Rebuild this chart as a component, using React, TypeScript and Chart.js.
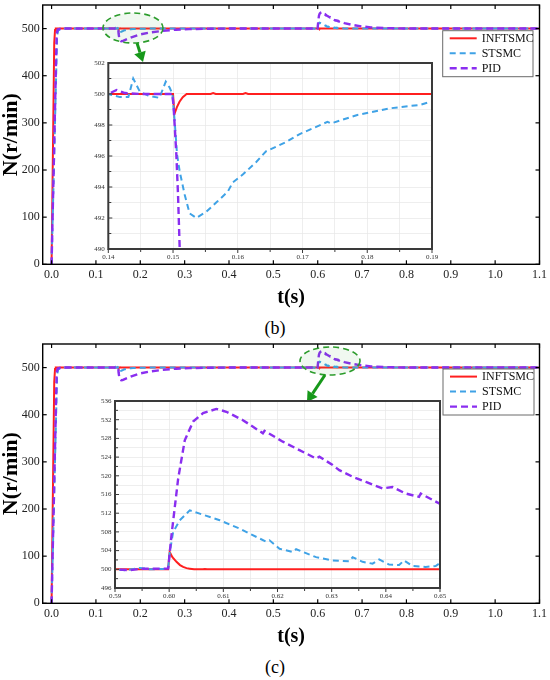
import React, { useEffect, useRef } from 'react'
import { Chart, registerables } from 'chart.js'

Chart.register(...registerables)

const SERIF = "'Times New Roman', 'Liberation Serif', serif"

// speed N (r/min) against time t (s)
const infTime = [0, 0.006, 0.0078, 0.0095, 0.15, 0.1502, 0.1506, 0.151, 0.1515, 0.1521, 0.1558, 0.1562, 0.1566, 0.1608, 0.1612, 0.1616, 0.5998, 0.6001, 0.6006, 0.60135, 0.602, 0.60258, 0.6032, 0.6038, 0.6046, 0.6062, 0.6066, 0.607, 1.1]
const infSpeed = [0, 470, 497, 500, 500, 498.7, 499.15, 499.5, 499.8, 500, 500, 500.06, 500, 500, 500.06, 500, 500, 503.7, 502.6, 501.6, 500.9, 500.5, 500.25, 500.14, 500, 500, 500.05, 500, 500]

const stTime = [0, 0.0125, 0.015, 0.02, 0.03, 0.14, 0.1409, 0.1418, 0.1431, 0.14385, 0.14487, 0.14615, 0.1479, 0.14887, 0.14949, 0.1499, 0.15026, 0.15062, 0.15103, 0.1518, 0.15256, 0.15359, 0.15513, 0.15667, 0.15846, 0.15923, 0.16077, 0.16282, 0.16436, 0.1659, 0.16744, 0.16949, 0.17385, 0.1744, 0.17846, 0.18359, 0.1882, 0.18974, 0.195, 0.21, 0.24, 0.59, 0.5921, 0.5946, 0.5964, 0.5998, 0.60012, 0.60074, 0.60196, 0.6038, 0.60564, 0.60933, 0.613, 0.61791, 0.61853, 0.62037, 0.62282, 0.62344, 0.62712, 0.63018, 0.63325, 0.63387, 0.6357, 0.63755, 0.63877, 0.64061, 0.64245, 0.64337, 0.6449, 0.64736, 0.6492, 0.64982, 0.652, 0.66, 0.68, 0.72, 1.1]
const stSpeed = [0, 485, 496, 498.5, 500, 500, 499.9, 499.8, 499.8, 501, 500.15, 499.9, 499.75, 500.8, 500.4, 500, 498.2, 496.1, 495, 493.5, 492.3, 492, 492.4, 493, 493.7, 494.3, 494.8, 495.6, 496.3, 496.6, 496.9, 497.4, 498.2, 498.1, 498.65, 499.08, 499.3, 499.5, 499.6, 499.85, 500, 500, 499.8, 500.3, 500, 500.1, 503.7, 508, 510.5, 512.6, 511.9, 510.5, 508.7, 505.9, 506.2, 504.4, 503.7, 504.3, 502.6, 501.9, 501.7, 502.6, 501.6, 501.2, 502.1, 501, 500.9, 501.9, 500.7, 500.5, 500.7, 501.2, 500.6, 500.4, 500.15, 500, 500]

const pidTime = [0, 0.0115, 0.014, 0.02, 0.03, 0.14, 0.14128, 0.14256, 0.145, 0.1499, 0.1501, 0.15051, 0.15077, 0.15103, 0.1515, 0.152, 0.153, 0.155, 0.157, 0.16, 0.17, 0.18, 0.2, 0.22, 0.25, 0.28, 0.31, 0.35, 0.4, 0.59, 0.5928, 0.5946, 0.5995, 0.59982, 0.60043, 0.60166, 0.60288, 0.60442, 0.60626, 0.60871, 0.61055, 0.61362, 0.6173, 0.61761, 0.62098, 0.62405, 0.62712, 0.62773, 0.63018, 0.63141, 0.63387, 0.63632, 0.63939, 0.64123, 0.64368, 0.64613, 0.64644, 0.64982, 0.655, 0.66, 0.68, 0.7, 0.72, 0.75, 0.8, 0.9, 1.1]
const pidSpeed = [0, 490, 498, 499.5, 500, 500, 500.26, 500.06, 500, 500, 499.1, 496.1, 493.5, 490, 487, 483.5, 478.5, 474.5, 473, 473.5, 477.5, 481.5, 487.5, 491.5, 495, 497.5, 498.8, 499.6, 500, 500, 499.8, 500.1, 500.15, 500.2, 507.3, 519.4, 527.6, 531.6, 533.4, 534.3, 533.7, 531.9, 529.1, 529.6, 527.3, 525.5, 523.7, 524.1, 522.3, 521.2, 519.8, 518.7, 517.3, 517.6, 516.2, 515.5, 516.2, 514.1, 513, 511.5, 507.5, 504.5, 502.5, 501, 500.2, 500, 500]

const seriesLabels = ['INFTSMC', 'STSMC', 'PID']
const seriesData = [[infTime, infSpeed], [stTime, stSpeed], [pidTime, pidSpeed]]
const seriesColors = ['#ff1f1f', '#3fa2e6', '#8a2ef0']
const seriesDashes = [[], [6, 4], [7, 4]]

const mainTimeTicks = [0, 0.1, 0.2, 0.3, 0.4, 0.5, 0.6, 0.7, 0.8, 0.9, 1.0, 1.1]
const mainSpeedTicks = [0, 100, 200, 300, 400, 500]
const zoomBTimeTicks = [0.14, 0.15, 0.16, 0.17, 0.18, 0.19]
const zoomBSpeedTicks = [490, 492, 494, 496, 498, 500, 502]
const zoomCTimeTicks = [0.59, 0.6, 0.61, 0.62, 0.63, 0.64, 0.65]
const zoomCSpeedTicks = [496, 500, 504, 508, 512, 516, 520, 524, 528, 532, 536]

const buildDatasets = (width: number) =>
  seriesLabels.map((label, i) => ({
    label,
    data: seriesData[i][0].map((x, j) => ({ x, y: seriesData[i][1][j] })),
    borderColor: seriesColors[i],
    borderWidth: i === 2 ? width + 0.4 : width,
    borderDash: seriesDashes[i],
    pointRadius: 0,
    tension: 0,
    fill: false,
    order: 3 - i,
  }))

// every minor step between the first and last major tick
const fillTicks = (major: number[], step: number) => {
  const n = Math.round((major[major.length - 1] - major[0]) / step)
  return Array.from({ length: n + 1 }, (_, i) => +(major[0] + i * step).toFixed(6))
}
const isMajor = (v: number, major: number[]) => major.some((m) => Math.abs(m - v) < 1e-7)

const axis = (o: any) => ({
  type: 'linear',
  min: o.min,
  max: o.max,
  grid: o.grid
    ? { display: true, color: o.grid, lineWidth: 0.7, drawTicks: false }
    : { display: false, drawTicks: false },
  border: { display: false },
  afterBuildTicks: (s: any) => {
    s.ticks = o.values.map((value: number) => ({ value }))
  },
  afterFit: (s: any) => {
    // fixed box sizes so the plot area lands where the figure has it
    if (o.horizontal) {
      s.height = o.size
      s.paddingLeft = 0
      s.paddingRight = 0
    } else {
      s.width = o.size
      s.paddingTop = 0
      s.paddingBottom = 0
    }
  },
  ticks: {
    autoSkip: false,
    maxRotation: 0,
    padding: o.padding,
    color: o.color,
    font: { family: SERIF, size: o.fontSize },
    callback: (v: any) => (isMajor(Number(v), o.major) ? Number(v).toFixed(o.digits) : ''),
  },
  title: o.title
    ? { display: true, text: o.title, color: '#000', padding: 0, font: { family: SERIF, size: o.titleSize, weight: 'bold', lineHeight: o.titleLine } }
    : { display: false },
})

const framePlugin = {
  id: 'frame',
  beforeDraw(chart: any, _a: any, o: any) {
    if (!o.fill) return
    const { ctx, chartArea: a } = chart
    ctx.save()
    ctx.fillStyle = o.fill
    ctx.fillRect(a.left, a.top, a.right - a.left, a.bottom - a.top)
    ctx.restore()
  },
  afterDatasetsDraw(chart: any, _a: any, o: any) {
    const { ctx, chartArea: a, scales } = chart
    ctx.save()
    ctx.strokeStyle = o.color
    ctx.lineWidth = o.tickWidth
    const marks = (scale: any, side: string, dir: number) => {
      for (const t of scale.ticks) {
        const p = scale.getPixelForValue(t.value)
        const d = dir * (t.label === '' ? o.minorLen : o.majorLen)
        ctx.beginPath()
        if (side === 'bottom') { ctx.moveTo(p, a.bottom); ctx.lineTo(p, a.bottom - d) }
        if (side === 'top') { ctx.moveTo(p, a.top); ctx.lineTo(p, a.top + d) }
        if (side === 'left') { ctx.moveTo(a.left, p); ctx.lineTo(a.left + d, p) }
        if (side === 'right') { ctx.moveTo(a.right, p); ctx.lineTo(a.right - d, p) }
        ctx.stroke()
      }
    }
    for (const [side, dir] of o.sides) marks(side === 'top' || side === 'bottom' ? scales.x : scales.y, side, dir)
    ctx.lineWidth = o.width
    ctx.strokeRect(a.left, a.top, a.right - a.left, a.bottom - a.top)
    ctx.restore()
  },
}

const calloutPlugin = {
  id: 'callout',
  afterDraw(chart: any, _a: any, o: any) {
    const { ctx } = chart
    ctx.save()
    // zoom ellipse
    const e = o.ellipse
    ctx.beginPath()
    ctx.ellipse(e.x, e.y, e.rx, e.ry, 0, 0, Math.PI * 2)
    ctx.fillStyle = 'rgba(70,170,70,0.08)'
    ctx.fill()
    ctx.setLineDash([6, 4])
    ctx.strokeStyle = '#2c9c2c'
    ctx.lineWidth = 1.6
    ctx.stroke()
    ctx.setLineDash([])
    // arrow
    const { x1, y1, x2, y2 } = o.arrow
    const ang = Math.atan2(y2 - y1, x2 - x1)
    const bx = x2 - 10 * Math.cos(ang)
    const by = y2 - 10 * Math.sin(ang)
    ctx.strokeStyle = '#17981a'
    ctx.fillStyle = '#17981a'
    ctx.lineWidth = 3
    ctx.beginPath()
    ctx.moveTo(x1, y1)
    ctx.lineTo(bx, by)
    ctx.stroke()
    ctx.beginPath()
    ctx.moveTo(x2, y2)
    ctx.lineTo(bx + 6 * Math.sin(ang), by - 6 * Math.cos(ang))
    ctx.lineTo(bx - 6 * Math.sin(ang), by + 6 * Math.cos(ang))
    ctx.closePath()
    ctx.fill()
    // legend
    const lg = o.legend
    ctx.fillStyle = '#fff'
    ctx.fillRect(lg.x, lg.y, lg.w, lg.h)
    ctx.strokeStyle = '#6a6a6a'
    ctx.lineWidth = 1
    ctx.strokeRect(lg.x, lg.y, lg.w, lg.h)
    ctx.font = `12px ${SERIF}`
    ctx.textBaseline = 'middle'
    chart.data.datasets.forEach((ds: any, i: number) => {
      const y = lg.y + 7.6 + i * 15
      ctx.strokeStyle = ds.borderColor
      ctx.lineWidth = ds.borderWidth
      ctx.setLineDash(ds.borderDash)
      ctx.beginPath()
      ctx.moveTo(lg.x + 7, y)
      ctx.lineTo(lg.x + 34, y)
      ctx.stroke()
      ctx.setLineDash([])
      ctx.fillStyle = '#111'
      ctx.fillText(ds.label, lg.x + 39, y + 0.5)
    })
    ctx.restore()
  },
}

const mainConfig = (p: any) => ({
  type: 'line',
  data: { datasets: buildDatasets(2) },
  plugins: [framePlugin, calloutPlugin],
  options: {
    responsive: false,
    animation: false,
    events: [],
    layout: { padding: { top: 5, right: 10.5, left: 0, bottom: 0 } },
    plugins: {
      legend: { display: false },
      tooltip: { enabled: false },
      frame: {
        color: '#000', width: 1.4, tickWidth: 1.2, majorLen: 4, minorLen: 4,
        sides: [['bottom', 1], ['top', 1], ['left', 1], ['right', 1]],
      },
      callout: { ellipse: p.ellipse, arrow: p.arrow, legend: p.legend },
    },
    scales: {
      x: axis({
        min: -0.02, max: 1.1, values: mainTimeTicks, major: mainTimeTicks, digits: 1,
        horizontal: true, size: 45.7, padding: 3, color: '#222', fontSize: 12,
        title: 't(s)', titleSize: 20, titleLine: 1.2,
      }),
      y: axis({
        min: 0, max: 550, values: mainSpeedTicks, major: mainSpeedTicks, digits: 0,
        horizontal: false, size: 42.7, padding: 3, color: '#222', fontSize: 12,
        title: 'N(r/min)', titleSize: 22, titleLine: 1,
      }),
    },
  },
})

const zoomConfig = (p: any) => ({
  type: 'line',
  data: { datasets: buildDatasets(2) },
  plugins: [framePlugin],
  options: {
    responsive: false,
    animation: false,
    events: [],
    layout: { padding: { top: p.inset.padTop, right: p.inset.padRight, left: 0, bottom: 0 } },
    plugins: {
      legend: { display: false },
      tooltip: { enabled: false },
      frame: {
        fill: '#fff', color: '#3a3a3a', width: 2, tickWidth: 1, majorLen: 4, minorLen: 3,
        sides: [['bottom', -1], ['left', 1]],
      },
    },
    scales: {
      x: axis({
        min: p.timeTicks[0], max: p.timeTicks[p.timeTicks.length - 1],
        values: fillTicks(p.timeTicks, p.timeStep), major: p.timeTicks, digits: 2,
        horizontal: true, size: p.inset.xHeight, padding: 4, color: '#333', fontSize: 7, grid: '#e6e6e6',
      }),
      y: axis({
        min: p.speedTicks[0], max: p.speedTicks[p.speedTicks.length - 1],
        values: fillTicks(p.speedTicks, p.speedStep), major: p.speedTicks, digits: 0,
        horizontal: false, size: p.inset.yWidth, padding: 3.5, color: '#333', fontSize: 7, grid: '#e6e6e6',
      }),
    },
  },
})

const panelB = {
  caption: '(b)',
  timeTicks: zoomBTimeTicks,
  speedTicks: zoomBSpeedTicks,
  timeStep: 0.005,
  speedStep: 1,
  inset: { left: 78, top: 55, width: 362, height: 212, yWidth: 30.3, xHeight: 18, padTop: 8, padRight: 8 },
  ellipse: { x: 133, y: 28, rx: 30, ry: 15 },
  arrow: { x1: 137, y1: 43, x2: 143, y2: 62 },
  legend: { x: 442.7, y: 30.7, w: 90.3, h: 46 },
}

const panelC = {
  caption: '(c)',
  timeTicks: zoomCTimeTicks,
  speedTicks: zoomCSpeedTicks,
  timeStep: 0.005,
  speedStep: 2,
  inset: { left: 85, top: 54, width: 362, height: 213, yWidth: 30, xHeight: 18, padTop: 8, padRight: 7 },
  ellipse: { x: 330, y: 22, rx: 30, ry: 14 },
  arrow: { x1: 325, y1: 36, x2: 307, y2: 63 },
  legend: { x: 443, y: 30, w: 91, h: 46 },
}

const Plot = ({ left, top, width, height, config }: any) => {
  const ref = useRef<HTMLCanvasElement>(null)

  useEffect(() => {
    if (!ref.current) return
    const chart = new Chart(ref.current, config as any)
    return () => chart.destroy()
  }, [])

  return (
    <canvas
      ref={ref}
      width={width}
      height={height}
      style={{ position: 'absolute', left, top, width, height }}
    />
  )
}

const Panel = ({ p }: any) => (
  <div style={{ position: 'relative', width: 550, height: 339 }}>
    <Plot left={0} top={0} width={550} height={310} config={mainConfig(p)} />
    <Plot
      left={p.inset.left}
      top={p.inset.top}
      width={p.inset.width}
      height={p.inset.height}
      config={zoomConfig(p)}
    />
    <div
      style={{
        position: 'absolute', left: 0, top: 317, width: 550, textAlign: 'center',
        fontFamily: SERIF, fontSize: 18, lineHeight: '22px', color: '#000',
      }}
    >
      {p.caption}
    </div>
  </div>
)

export default function App() {
  return (
    <div style={{ position: 'absolute', left: 0, top: 0, width: 550, height: 680, background: '#fff' }}>
      <Panel p={panelB} />
      <Panel p={panelC} />
    </div>
  )
}
